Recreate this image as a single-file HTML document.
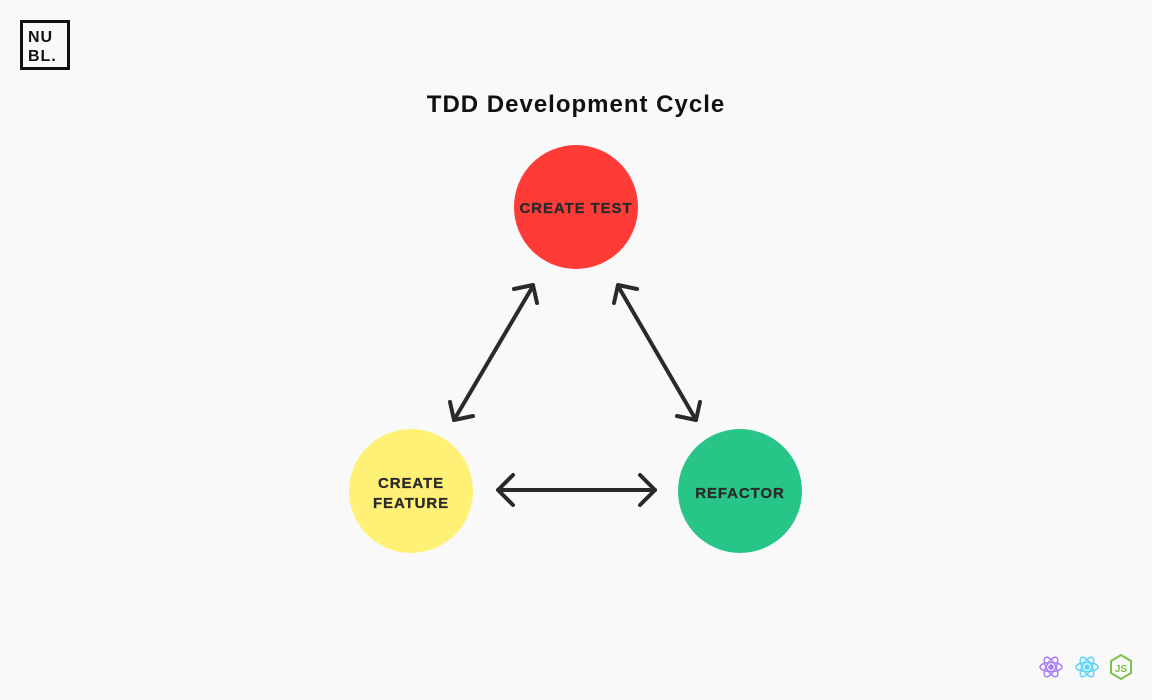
<!DOCTYPE html>
<html><head><style>
body{margin:0;width:1152px;height:700px;background:#f9f9f9;font-family:"Liberation Sans",sans-serif;overflow:hidden;position:relative}
.logo{position:absolute;left:20px;top:20px;width:44px;height:44px;border:3px solid #111;font-weight:bold;font-size:16px;line-height:19px;color:#111;letter-spacing:1px}
.logo div{position:absolute;left:5px;top:5px}
h1{position:absolute;top:91px;left:0;width:1152px;text-align:center;margin:0;font-size:24px;letter-spacing:1px;font-weight:bold;color:#111}
</style></head><body>
<div class="logo"><div>NU<br>BL.</div></div>
<h1>TDD Development Cycle</h1>
<svg width="1152" height="700" style="position:absolute;left:0;top:0">
<circle cx="576" cy="207" r="62" fill="#ff3b37"/>
<circle cx="411" cy="491" r="62" fill="#fff176"/>
<circle cx="740" cy="491" r="62" fill="#27c587"/>
<g font-family="Liberation Sans, sans-serif" font-weight="bold" font-size="15" letter-spacing="0.9" fill="#2a2a2a" text-anchor="middle" stroke="#2a2a2a" stroke-width="0.3">
<text x="576" y="213">CREATE TEST</text>
<text x="411" y="488">CREATE</text>
<text x="411" y="508">FEATURE</text>
<text x="740" y="498">REFACTOR</text>
</g>
<g stroke="#2a2a2a" stroke-width="4" fill="none" stroke-linecap="round" stroke-linejoin="round">
<line x1="533" y1="286" x2="454" y2="420"/>
<polyline points="514,289 533,285 537,303"/>
<polyline points="450,402 454,420 473,416"/>
<line x1="618" y1="286" x2="696" y2="420"/>
<polyline points="614,303 618,285 637,289"/>
<polyline points="677,416 696,420 700,402"/>
<line x1="498" y1="490" x2="655" y2="490"/>
<polyline points="513,475 498,490 513,505"/>
<polyline points="640,475 655,490 640,505"/>
</g>
<g fill="none" stroke-width="1.5">
<g stroke="#a97cf7" transform="translate(1051,667)"><ellipse rx="11" ry="4.5"/><ellipse rx="11" ry="4.5" transform="rotate(60)"/><ellipse rx="11" ry="4.5" transform="rotate(-60)"/><circle r="2" fill="#a97cf7"/></g>
<g stroke="#5ad4f7" transform="translate(1087,667)"><ellipse rx="11" ry="4.5"/><ellipse rx="11" ry="4.5" transform="rotate(60)"/><ellipse rx="11" ry="4.5" transform="rotate(-60)"/><circle r="2" fill="#5ad4f7"/></g>
<g stroke="#7dc14a" stroke-width="2"><polygon points="1121,655 1131,661 1131,673 1121,679 1111,673 1111,661"/></g>
</g>
<text x="1121" y="672" font-family="Liberation Sans, sans-serif" font-size="10" font-weight="bold" fill="#7dc14a" text-anchor="middle">JS</text>
</svg>
</body></html>
